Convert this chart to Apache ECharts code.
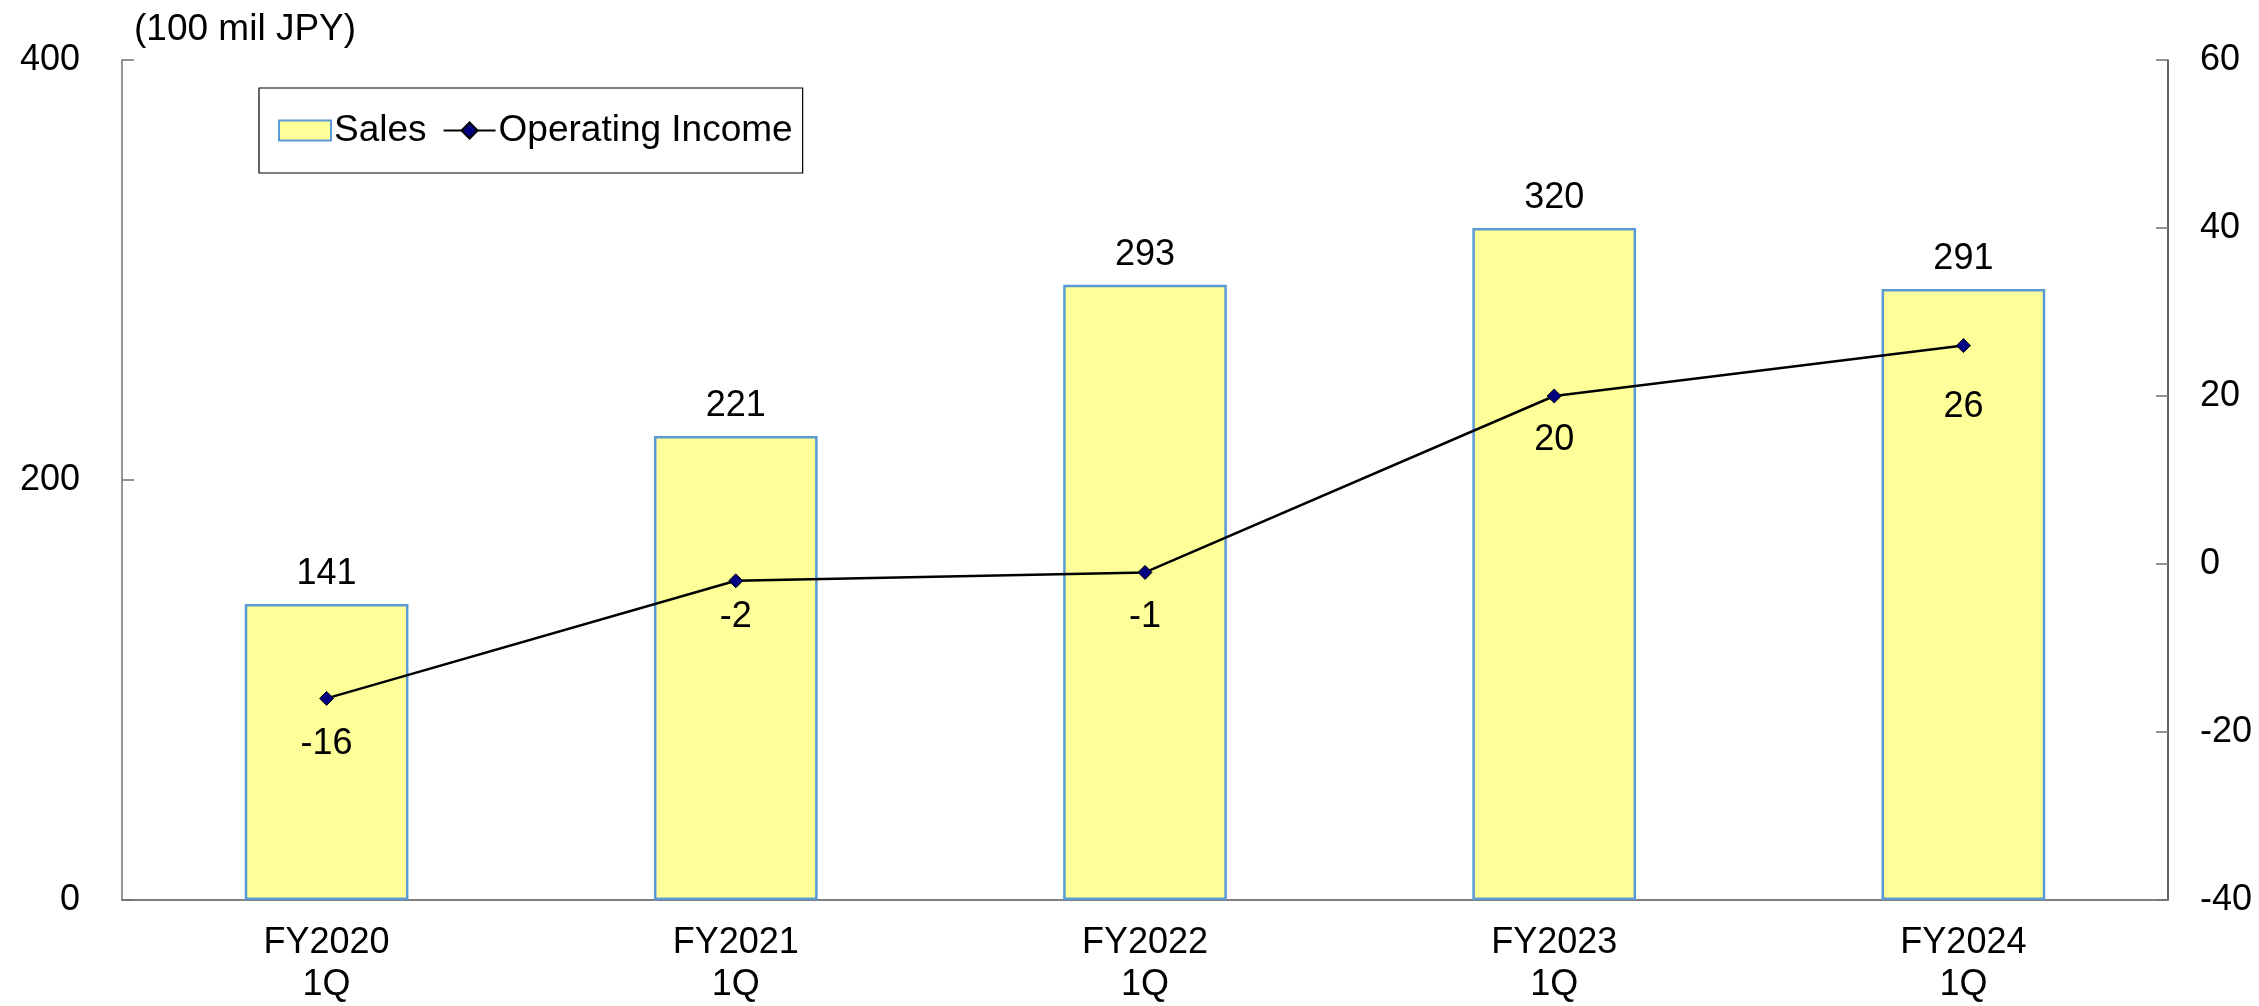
<!DOCTYPE html>
<html>
<head>
<meta charset="utf-8">
<script src="https://cdn.jsdelivr.net/npm/echarts@6/dist/echarts.min.js"></script>
<style>
html,body{margin:0;padding:0;background:#fff;}
#chart{width:2259px;height:1006px;}
</style>
</head>
<body>
<div id="chart"></div>
<script>
var categories = ['FY2020\n1Q', 'FY2021\n1Q', 'FY2022\n1Q', 'FY2023\n1Q', 'FY2024\n1Q'];
var sales = [141, 221, 293, 320, 291];
var operatingIncome = [-16, -2, -1, 20, 26];
var unitLabel = '(100 mil JPY)';

// label placement (style only, not data)
var incomeLabelGap = [20, 11, 19, 19, 36];

var FONT = '"Liberation Sans", Arial, sans-serif';
var chart = echarts.init(document.getElementById('chart'), null, {renderer: 'canvas'});

var incomeData = operatingIncome.map(function (v, i) {
  return {value: v, label: {distance: incomeLabelGap[i]}};
});

chart.setOption({
  animation: false,
  backgroundColor: '#ffffff',
  textStyle: {fontFamily: FONT, color: '#000'},
  grid: {left: 122, right: 91, top: 60, bottom: 106, containLabel: false},
  legend: {
    left: 259, top: 88,
    orient: 'horizontal',
    borderColor: '#000', borderWidth: 1.2,
    padding: [24, 10, 24, 19],
    itemGap: 16,
    itemWidth: 52, itemHeight: 20,
    textStyle: {fontFamily: FONT, fontSize: 37, color: '#000', padding: [0, 0, 0, -2]},
    data: [
      {name: 'Sales', icon: 'rect'},
      {name: 'Operating Income'}
    ]
  },
  xAxis: {
    type: 'category',
    data: categories,
    axisLine: {lineStyle: {color: '#808080', width: 2}},
    axisTick: {inside: true, length: 10, lineStyle: {color: '#000', width: 1}},
    axisLabel: {fontFamily: FONT, fontSize: 36, color: '#000', lineHeight: 42, margin: 22}
  },
  yAxis: [
    {
      type: 'value', min: 0, max: 400, interval: 200,
      position: 'left',
      name: unitLabel,
      nameLocation: 'end',
      nameGap: 12,
      nameTextStyle: {fontFamily: FONT, fontSize: 37, color: '#000', align: 'left', padding: [0, 0, 0, 12]},
      axisLine: {show: true, lineStyle: {color: '#707070', width: 1.5}},
      axisTick: {show: true, inside: true, length: 12, lineStyle: {color: '#707070', width: 1.5}},
      axisLabel: {fontFamily: FONT, fontSize: 36, color: '#000', margin: 42},
      splitLine: {show: false}
    },
    {
      type: 'value', min: -40, max: 60, interval: 20,
      position: 'right',
      axisLine: {show: true, lineStyle: {color: '#303030', width: 1.5}},
      axisTick: {show: true, inside: true, length: 12, lineStyle: {color: '#707070', width: 1.5}},
      axisLabel: {fontFamily: FONT, fontSize: 36, color: '#000', margin: 32},
      splitLine: {show: false}
    }
  ],
  series: [
    {
      name: 'Sales',
      type: 'bar',
      yAxisIndex: 0,
      data: sales,
      barWidth: '40%',
      itemStyle: {color: '#FFFF99', borderColor: '#5B9BD5', borderWidth: 2.5},
      label: {show: true, position: 'top', distance: 12, fontFamily: FONT, fontSize: 36, color: '#000'}
    },
    {
      name: 'Operating Income',
      type: 'line',
      yAxisIndex: 1,
      data: incomeData,
      symbol: 'diamond',
      symbolSize: 14,
      lineStyle: {color: '#000', width: 2.5},
      itemStyle: {color: '#000080', borderColor: '#000', borderWidth: 1},
      label: {show: true, position: 'bottom', distance: 20, fontFamily: FONT, fontSize: 36, color: '#000'},
      z: 5
    }
  ]
});
</script>
</body>
</html>
